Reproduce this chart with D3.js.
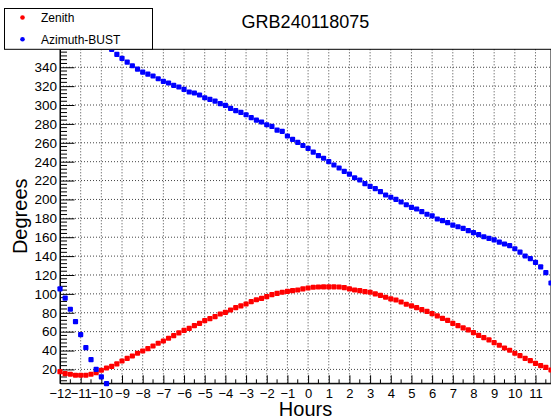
<!DOCTYPE html>
<html>
<head>
<meta charset="utf-8">
<script src="https://cdn.jsdelivr.net/npm/d3@7"></script>
<style>
  body { margin: 0; background: #fff; }
  svg { display: block; font-family: "Liberation Sans", Arial, sans-serif; }
</style>
</head>
<body>
<div id="chart"></div>
<script>
// hours, one point every 15 minutes
const hours = [
  -12, -11.75, -11.5, -11.25, -11, -10.75, -10.5, -10.25, -10, -9.75, -9.5, -9.25,
  -9, -8.75, -8.5, -8.25, -8, -7.75, -7.5, -7.25, -7, -6.75, -6.5, -6.25,
  -6, -5.75, -5.5, -5.25, -5, -4.75, -4.5, -4.25, -4, -3.75, -3.5, -3.25,
  -3, -2.75, -2.5, -2.25, -2, -1.75, -1.5, -1.25, -1, -0.75, -0.5, -0.25,
  0, 0.25, 0.5, 0.75, 1, 1.25, 1.5, 1.75, 2, 2.25, 2.5, 2.75,
  3, 3.25, 3.5, 3.75, 4, 4.25, 4.5, 4.75, 5, 5.25, 5.5, 5.75,
  6, 6.25, 6.5, 6.75, 7, 7.25, 7.5, 7.75, 8, 8.25, 8.5, 8.75,
  9, 9.25, 9.5, 9.75, 10, 10.25, 10.5, 10.75, 11, 11.25, 11.5, 11.75
];

const zenith = [
  17.6, 15.5, 14.9, 13.8, 13.8, 13.8, 14.9, 16.6, 19.1, 21.5, 23.3, 25.8,
  28.9, 31.8, 34.2, 37.1, 39.5, 42.0, 44.8, 47.7, 50.1, 53.0, 55.7, 58.6,
  61.4, 63.5, 66.3, 68.8, 71.6, 73.7, 75.9, 78.7, 80.5, 82.9, 85.4, 87.2,
  89.3, 91.8, 93.8, 95.3, 97.0, 99.2, 100.6, 101.7, 102.7, 103.4, 104.1, 105.2,
  106.2, 107.0, 107.3, 107.4, 107.4, 107.4, 107.3, 106.6, 105.2, 104.1, 103.4, 102.4,
  101.7, 99.9, 98.5, 96.4, 94.6, 93.5, 91.4, 89.0, 87.2, 85.4, 83.3, 81.5,
  79.0, 76.6, 74.1, 72.0, 68.8, 66.3, 63.9, 61.8, 58.9, 56.1, 53.6, 51.2,
  48.3, 45.6, 42.7, 40.3, 37.1, 34.6, 31.8, 29.3, 26.5, 24.0, 22.2, 19.4
];

const azimuth = [
  105.2, 95.6, 83.7, 70.6, 56.8, 43.0, 30.3, 20.1, 12.0, 4.9, 359.0, 353.7,
  349.4, 345.5, 341.6, 338.1, 334.9, 332.8, 330.7, 327.8, 325.1, 323.3, 320.9, 319.1,
  316.6, 313.8, 312.7, 310.6, 307.7, 306.0, 304.2, 301.4, 299.7, 296.5, 294.0, 292.3,
  289.7, 286.6, 284.1, 282.0, 279.1, 277.4, 273.5, 272.1, 267.2, 263.7, 260.5, 257.1,
  254.1, 250.2, 246.3, 243.6, 240.0, 236.5, 233.3, 229.8, 226.9, 223.0, 220.6, 216.7,
  213.9, 211.4, 208.2, 204.7, 202.3, 200.1, 197.3, 194.4, 191.7, 189.9, 187.0, 184.3,
  182.5, 179.3, 177.5, 175.4, 172.9, 171.1, 169.4, 166.9, 164.8, 162.7, 160.5, 158.8,
  157.1, 154.9, 152.8, 151.0, 147.8, 144.3, 140.1, 137.3, 133.4, 128.5, 122.4, 111.5
];

const seriesNames = ["Zenith", "Azimuth-BUST"];
const xTicks = [-12, -11, -10, -9, -8, -7, -6, -5, -4, -3, -2, -1, 0, 1, 2, 3, 4, 5, 6, 7, 8, 9, 10, 11];
const yTicks = [20, 40, 60, 80, 100, 120, 140, 160, 180, 200, 220, 240, 260, 280, 300, 320, 340];

const color = ["#ff0000", "#0000ff"];

const width = 551, height = 419;
const margin = { top: 49.3, right: 0, bottom: 35.7, left: 60 };
const mwidth = width - margin.left - margin.right;
const mheight = height - margin.top - margin.bottom;

const svg = d3.select("#chart").append("svg")
    .attr("width", width)
    .attr("height", height);

const xScale = d3.scaleLinear().domain([-12, 11.75]).range([0, mwidth]);
const yScale = d3.scaleLinear().domain([5.3, 359]).range([mheight, 0]);

const g = svg.append("g")
    .attr("transform", "translate(" + margin.left + "," + margin.top + ")");

// grid
g.append("g").attr("class", "grid")
  .selectAll("line.gx").data(xTicks.slice(1)).join("line")
    .attr("x1", d => xScale(d)).attr("x2", d => xScale(d))
    .attr("y1", 0).attr("y2", mheight);
g.select(".grid")
  .selectAll("line.gy").data(yTicks).join("line")
    .attr("x1", 0).attr("x2", mwidth)
    .attr("y1", d => yScale(d)).attr("y2", d => yScale(d));
g.selectAll(".grid line")
    .attr("stroke", "#444")
    .attr("stroke-width", 1)
    .attr("stroke-dasharray", "1,2");

// minor ticks
const yMinor = d3.range(8, 359, 4).filter(d => d % 20 !== 0);
g.append("g").selectAll("line").data(yMinor).join("line")
    .attr("x1", 0).attr("x2", 7)
    .attr("y1", d => yScale(d)).attr("y2", d => yScale(d))
    .attr("stroke", "#000");
const xMinor = d3.range(-11.5, 11.75, 1);
g.append("g").selectAll("line").data(xMinor).join("line")
    .attr("x1", d => xScale(d)).attr("x2", d => xScale(d))
    .attr("y1", mheight).attr("y2", mheight - 4)
    .attr("stroke", "#000");

// axes
const fmt = d => d < 0 ? "\u2212" + Math.abs(d) : String(d);

const yAxis = d3.axisLeft(yScale)
    .tickValues(yTicks)
    .tickSizeInner(-14.5)
    .tickSizeOuter(0)
    .tickPadding(3)
    .tickFormat(fmt);

const xAxis = d3.axisBottom(xScale)
    .tickValues(xTicks)
    .tickSizeInner(-8)
    .tickSizeOuter(0)
    .tickPadding(5)
    .tickFormat(fmt);

g.append("g").call(yAxis);
g.append("g").attr("class", "xaxis")
    .attr("transform", "translate(0," + mheight + ")").call(xAxis);

g.selectAll(".tick text")
    .attr("font-size", 13.5)
    .attr("font-family", "Liberation Sans, Arial, sans-serif")
    .attr("fill", "#000");
g.selectAll(".xaxis .tick text").attr("font-size", 13);

// frame
g.append("rect")
    .attr("width", mwidth).attr("height", mheight)
    .attr("fill", "none").attr("stroke", "#000");

// points
const series = [zenith, azimuth];
series.forEach((vals, s) => {
    g.append("g").selectAll("rect")
      .data(hours.map((h, i) => ({ h: h, v: vals[i] })))
      .join("rect")
        .attr("x", d => xScale(d.h) - 2.6)
        .attr("y", d => yScale(d.v) - 2.6)
        .attr("width", 5.2).attr("height", 5.2)
        .attr("rx", 1)
        .attr("fill", color[s]);
});

// title and axis titles
svg.append("text")
    .attr("x", 305.5).attr("y", 28.3)
    .attr("text-anchor", "middle")
    .attr("font-size", 18)
    .text("GRB240118075");

svg.append("text")
    .attr("x", margin.left + mwidth / 2).attr("y", 416)
    .attr("text-anchor", "middle")
    .attr("font-size", 20)
    .text("Hours");

svg.append("text")
    .attr("transform", "translate(27," + (margin.top + mheight / 2) + ") rotate(-90)")
    .attr("text-anchor", "middle")
    .attr("font-size", 20)
    .text("Degrees");

// legend
const legend = svg.append("g").attr("class", "legend");
legend.append("rect")
    .attr("x", 4.5).attr("y", 8.5)
    .attr("width", 148).attr("height", 40.8)
    .attr("fill", "#fff").attr("stroke", "#000");
seriesNames.forEach((name, i) => {
    const cy = 17.5 + i * 21.8;
    legend.append("circle")
        .attr("cx", 22.5).attr("cy", cy)
        .attr("r", 2.3)
        .attr("fill", color[i]);
    legend.append("text")
        .attr("x", 41).attr("y", cy + 4.3)
        .attr("font-size", 12)
        .text(name);
});
</script>
</body>
</html>
